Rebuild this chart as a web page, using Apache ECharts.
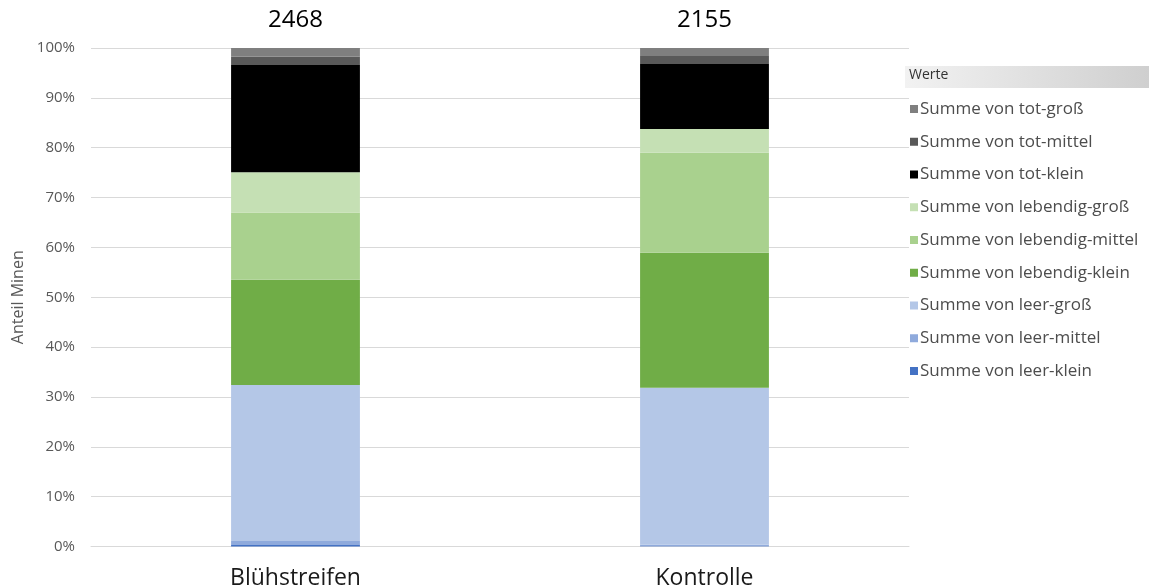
<!DOCTYPE html>
<html>
<head>
<meta charset="utf-8">
<script src="https://cdn.jsdelivr.net/npm/echarts@6/dist/echarts.min.js"></script>
<style>
  html, body { margin: 0; padding: 0; background: #fff; }
  #chart { width: 1149px; height: 588px; }
</style>
</head>
<body>
<div id="chart"></div>
<script>
// Kategorien und Gesamtzahl der Minen je Variante
const categories = ['Blühstreifen', 'Kontrolle'];
const totals = [2468, 2155];

// Anteile in Prozent je Kategorie (von unten nach oben gestapelt)
const leerKlein = [0.3, 0.05];
const leerMittel = [0.8, 0.3];
const leerGross = [31.3, 31.5];
const lebendigKlein = [21.1, 27.1];
const lebendigMittel = [13.5, 20.05];
const lebendigGross = [8.1, 4.75];
const totKlein = [21.5, 13.05];
const totMittel = [1.65, 1.6];
const totGross = [1.75, 1.6];

const yTicks = [0, 10, 20, 30, 40, 50, 60, 70, 80, 90, 100];

const FONT = '"Open Sans", Lato, sans-serif';

const seriesDefs = [
  { name: 'Summe von leer-klein', data: leerKlein, color: '#4472c4' },
  { name: 'Summe von leer-mittel', data: leerMittel, color: '#8faadc' },
  { name: 'Summe von leer-groß', data: leerGross, color: '#b4c7e7' },
  { name: 'Summe von lebendig-klein', data: lebendigKlein, color: '#70ad47' },
  { name: 'Summe von lebendig-mittel', data: lebendigMittel, color: '#a9d18e' },
  { name: 'Summe von lebendig-groß', data: lebendigGross, color: '#c5e0b4' },
  { name: 'Summe von tot-klein', data: totKlein, color: '#000000' },
  { name: 'Summe von tot-mittel', data: totMittel, color: '#595959' },
  { name: 'Summe von tot-groß', data: totGross, color: '#7f7f7f' }
];

const series = seriesDefs.map((s, i) => {
  const item = {
    name: s.name,
    type: 'bar',
    stack: 'anteil',
    barWidth: '31.5%',
    data: s.data,
    itemStyle: { color: s.color },
    emphasis: { disabled: true }
  };
  if (i === seriesDefs.length - 1) {
    // Gesamtzahl über jedem Balken
    item.label = {
      show: true,
      position: 'top',
      distance: 16,
      color: '#000',
      fontSize: 24,
      fontFamily: FONT,
      formatter: p => String(totals[p.dataIndex])
    };
  }
  return item;
});

const chart = echarts.init(document.getElementById('chart'), null, { renderer: 'canvas' });
chart.setOption({
  animation: false,
  backgroundColor: '#ffffff',
  textStyle: { fontFamily: FONT },
  grid: { left: 91, right: 240, top: 48, bottom: 41.5, containLabel: false, outerBoundsMode: 'none' },
  xAxis: {
    type: 'category',
    data: categories,
    axisTick: { show: false },
    axisLine: { lineStyle: { color: '#d9d9d9', width: 1 } },
    axisLabel: { color: '#1a1a1a', fontSize: 23, margin: 20, fontFamily: FONT }
  },
  yAxis: {
    type: 'value',
    min: yTicks[0],
    max: yTicks[yTicks.length - 1],
    interval: 10,
    name: 'Anteil Minen',
    nameLocation: 'middle',
    nameGap: 60,
    nameTextStyle: { color: '#595959', fontSize: 16, fontFamily: FONT },
    axisLine: { show: false },
    axisTick: { show: false },
    splitLine: { lineStyle: { color: '#d9d9d9', width: 1 } },
    axisLabel: { color: '#595959', fontSize: 15, margin: 16, fontFamily: FONT, formatter: '{value}%' }
  },
  legend: {
    orient: 'vertical',
    left: 905,
    top: 95,
    itemWidth: 8,
    itemHeight: 8,
    itemGap: 14.75,
    icon: 'rect',
    data: seriesDefs.map(s => s.name).reverse(),
    textStyle: { color: '#4d4d4d', fontSize: 17, lineHeight: 18, fontFamily: FONT, padding: [0, 0, 0, -3] },
    selectedMode: false
  },
  graphic: [
    {
      type: 'rect',
      left: 905,
      top: 66,
      shape: { width: 244, height: 22 },
      style: {
        fill: new echarts.graphic.LinearGradient(0, 0, 1, 0, [
          { offset: 0, color: '#f2f2f2' },
          { offset: 1, color: '#cfcfcf' }
        ])
      }
    },
    {
      type: 'text',
      left: 909,
      top: 68,
      style: { text: 'Werte', fill: '#333333', fontSize: 14, fontFamily: FONT }
    }
  ],
  series: series
});
</script>
</body>
</html>
